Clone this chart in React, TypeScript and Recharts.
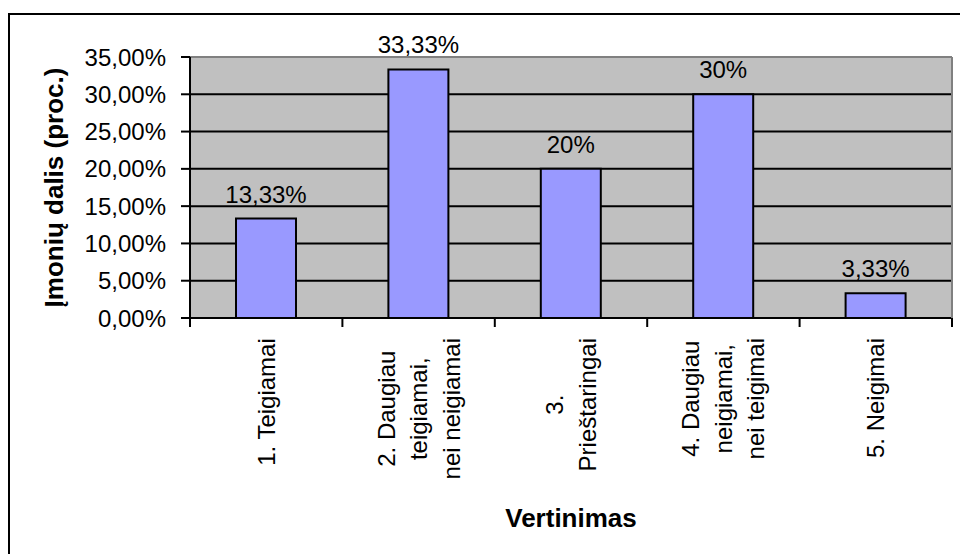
import React from 'react';
import { BarChart, Bar, XAxis, YAxis, CartesianGrid, LabelList, Label } from 'recharts';

// categories use '\n' where the axis label wraps
const categories = [
  '1. Teigiamai',
  '2. Daugiau\nteigiamai,\nnei neigiamai',
  '3.\nPrieštaringai',
  '4. Daugiau\nneigiamai,\nnei teigimai',
  '5. Neigimai',
];
const shares = [13.33, 33.33, 20, 30, 3.33];
const yTicks = [0, 5, 10, 15, 20, 25, 30, 35];

const data = categories.map((name, i) => ({ name, value: shares[i] }));

const FONT = "'Liberation Sans', Arial, sans-serif";

const fmtTick = (v: number) => v.toFixed(2).replace('.', ',') + '%';
const fmtLabel = (v: any) => String(v).replace('.', ',') + '%';

let ctx: CanvasRenderingContext2D | null = null;
const measure = (s: string) => {
  if (!ctx) ctx = document.createElement('canvas').getContext('2d');
  if (!ctx) return s.length * 12;
  ctx.font = `24px ${FONT}`;
  return ctx.measureText(s).width;
};

// rotated, centred multi-line label plus Excel-style tick marks on the band edges
const CategoryTick = ({ x, y, payload, index, visibleTicksCount }: any) => {
  const lines = String(payload.value).split('\n');
  const maxW = Math.max(...lines.map(measure));
  const lineH = 32.5;
  const cy = y + 20 + maxW / 2;
  const half = payload.offset ?? 0;
  const isLast = index === visibleTicksCount - 1;
  return (
    <g>
      <line x1={x - half} x2={x - half} y1={y} y2={y + 9} stroke="#000" strokeWidth={2} />
      {isLast && (
        <line x1={x + half} x2={x + half} y1={y} y2={y + 9} stroke="#000" strokeWidth={2} />
      )}
      <g transform={`translate(${x}, ${cy}) rotate(-90)`}>
        {lines.map((line, i) => (
          <text
            key={i}
            x={0}
            y={(i - (lines.length - 1) / 2) * lineH + 8.5}
            textAnchor="middle"
            fontSize={24}
            fontFamily={FONT}
            fill="#000"
          >
            {line}
          </text>
        ))}
      </g>
    </g>
  );
};

const YTitle = (props: any) => {
  const vb = props.viewBox ?? { x: 0, y: 57, width: 190, height: 261 };
  const cx = vb.x + 63;
  const cy = vb.y + vb.height / 2;
  return (
    <text
      x={cx}
      y={cy}
      transform={`rotate(-90, ${cx}, ${cy})`}
      textAnchor="middle"
      fontSize={26}
      fontWeight="bold"
      fontFamily={FONT}
      fill="#000"
    >
      Įmonių dalis (proc.)
    </text>
  );
};

export default function App() {
  return (
    <div
      style={{
        position: 'absolute',
        left: 0,
        top: 0,
        width: 960,
        height: 554,
        overflow: 'hidden',
        background: '#fff',
      }}
    >
      <div
        style={{
          position: 'absolute',
          left: 8,
          top: 13,
          width: 1000,
          height: 1000,
          borderLeft: '2px solid #000',
          borderTop: '2px solid #000',
        }}
      />
      <div style={{ position: 'absolute', left: 0, top: 0 }}>
        <BarChart
          width={960}
          height={554}
          data={data}
          margin={{ top: 56, right: 0, bottom: 0, left: 0 }}
        >
          <CartesianGrid vertical={false} fill="#C0C0C0" stroke="#000" strokeWidth={2} />
          <XAxis
            dataKey="name"
            interval={0}
            tick={<CategoryTick />}
            tickLine={false}
            tickSize={0}
            tickMargin={0}
            axisLine={{ stroke: '#000', strokeWidth: 2 }}
            height={236}
          >
            <Label
              value="Vertinimas"
              position="insideBottom"
              offset={27}
              fontSize={26}
              fontWeight="bold"
              fontFamily={FONT}
              fill="#000"
            />
          </XAxis>
          <XAxis
            xAxisId="top"
            orientation="top"
            dataKey="name"
            tick={false}
            tickLine={false}
            axisLine={{ stroke: '#808080', strokeWidth: 2 }}
            height={1}
          />
          <YAxis
            type="number"
            domain={[0, 35]}
            ticks={yTicks}
            interval={0}
            tickFormatter={fmtTick}
            width={190}
            tickSize={9}
            tickMargin={15}
            axisLine={{ stroke: '#000', strokeWidth: 2 }}
            tickLine={{ stroke: '#000', strokeWidth: 2 }}
            tick={{ fill: '#000', fontSize: 24, fontFamily: FONT }}
          >
            <Label content={<YTitle />} />
          </YAxis>
          <YAxis
            yAxisId="right"
            orientation="right"
            type="number"
            domain={[0, 35]}
            allowDataOverflow
            tick={false}
            tickLine={false}
            axisLine={{ stroke: '#808080', strokeWidth: 2 }}
            width={8}
          />
          <Bar
            dataKey="value"
            fill="#9999FF"
            stroke="#000"
            strokeWidth={2}
            barSize={60}
            isAnimationActive={false}
          >
            <LabelList
              dataKey="value"
              position="top"
              offset={16}
              formatter={fmtLabel}
              fill="#000"
              fontSize={24}
              fontFamily={FONT}
            />
          </Bar>
        </BarChart>
      </div>
    </div>
  );
}
